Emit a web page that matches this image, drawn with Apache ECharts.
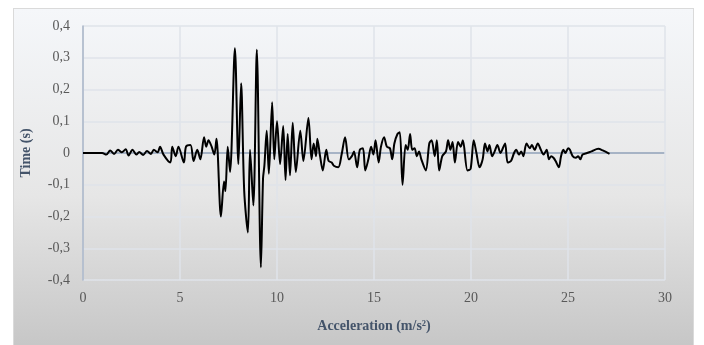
<!DOCTYPE html>
<html>
<head>
<meta charset="utf-8">
<script src="https://cdn.jsdelivr.net/npm/echarts@6/dist/echarts.min.js"></script>
<style>
  html, body { margin: 0; padding: 0; background: #ffffff; }
  #panel {
    position: absolute; left: 13px; top: 8px; width: 679px; height: 340px;
    border: 1px solid #dadada;
    background: linear-gradient(to bottom, #f5f7fa 0%, #e6e6e6 55%, #c6c6c6 100%);
  }
  #chart { position: absolute; left: 0; top: 0; width: 704px; height: 345px; }
</style>
</head>
<body>
<div id="panel"></div>
<div id="chart"></div>
<script>
// time (s) along x, acceleration on y
const times = [
  0, 0.99, 1.2, 1.4, 1.6, 1.8, 2.0, 2.2, 2.35, 2.55, 2.75, 2.9, 3.1, 3.3, 3.5, 3.65, 3.85,
  3.97, 4.15, 4.5, 4.6, 4.78, 4.92, 5.2, 5.31, 5.54, 5.7, 5.89, 6.05, 6.24, 6.35, 6.47, 6.63,
  6.77, 6.88, 7.11, 7.27, 7.34, 7.46, 7.58, 7.83, 8.01, 8.15, 8.31, 8.5, 8.61, 8.78, 8.96,
  9.17, 9.28, 9.35, 9.47, 9.58, 9.75, 9.86, 10.0, 10.16, 10.32, 10.44, 10.55, 10.67, 10.81,
  10.97, 11.2, 11.36, 11.62, 11.78, 11.89, 12.01, 12.08, 12.22, 12.36, 12.54, 12.66, 12.82,
  12.93, 13.16, 13.33, 13.51, 13.7, 13.86, 13.97, 14.13, 14.27, 14.43, 14.55, 14.71, 14.85,
  14.97, 15.08, 15.24, 15.36, 15.52, 15.66, 15.82, 15.94, 16.05, 16.21, 16.33, 16.47, 16.63,
  16.74, 16.86, 16.97, 17.09, 17.21, 17.32, 17.44, 17.67, 17.85, 17.97, 18.13, 18.24, 18.36,
  18.52, 18.71, 18.82, 18.94, 19.05, 19.17, 19.33, 19.47, 19.58, 19.82, 19.98, 20.14, 20.28,
  20.44, 20.6, 20.72, 20.85, 20.95, 21.09, 21.22, 21.36, 21.52, 21.64, 21.76, 21.89, 22.06,
  22.22, 22.33, 22.47, 22.59, 22.7, 22.86, 23.03, 23.14, 23.28, 23.44, 23.6, 23.74, 23.9,
  24.02, 24.13, 24.25, 24.36, 24.53, 24.64, 24.76, 24.87, 25.01, 25.1, 25.24, 25.4, 25.52,
  25.64, 25.75, 25.98, 26.21, 26.56, 26.79, 27.14
];
const accel = [
  0, 0, -0.005, 0.008, -0.003, 0.01, 0.002, 0.012, -0.008, 0.01, -0.005, 0.003, -0.006, 0.006, -0.003, 0.01, 0.002,
  0.02, -0.005, -0.03, 0.02, -0.01, 0.02, -0.03, 0.02, 0.025, -0.025, 0.01, -0.02, 0.05, 0.02, 0.04, 0.02,
  -0.005, 0.045, -0.2, -0.09, -0.12, 0.02, -0.06, 0.33, -0.035, 0.22, -0.12, -0.25, 0.01, -0.165, 0.325,
  -0.36, -0.08, -0.04, 0.07, -0.065, 0.16, -0.02, 0.1, -0.035, 0.085, -0.085, 0.06, -0.07, 0.095,
  -0.06, 0.07, -0.025, 0.11, -0.02, 0.03, -0.01, 0.045, -0.01, -0.055, 0.01, -0.025, -0.03,
  -0.04, -0.045, -0.005, 0.05, -0.02, -0.01, 0.005, -0.045, 0.01, 0.015, -0.055, -0.02, 0.02,
  -0.005, 0.04, -0.03, 0.02, 0.05, 0.02, 0.015, -0.02, 0.03, 0.06, 0.065, -0.1, 0.025,
  0.01, 0.06, 0.01, 0.015, -0.01, 0.005, -0.02, -0.055, 0.03, 0.04, -0.01, 0.04, -0.055,
  -0.01, 0.005, 0.04, 0.01, 0.035, -0.03, 0.035, 0.02, 0.04, -0.055, -0.05, 0.04, 0,
  -0.045, -0.02, 0.03, 0.005, 0.025, -0.01, 0.005, 0.025, 0, 0.015, 0.03, -0.03, -0.025,
  0, 0.01, -0.005, 0.005, -0.01, 0.03, 0.015, 0.025, 0.01, 0.03, 0.01, -0.005, 0.01,
  -0.02, -0.01, -0.015, -0.025, -0.045, -0.01, 0.01, 0, 0.015, 0.01, -0.01, -0.015, -0.01,
  -0.02, -0.005, 0, 0.005, 0.013, 0.008, -0.003
];
const xTicks = [0, 30, 5];
const yTicks = [-0.4, 0.4, 0.1];

const FONT = "'Liberation Serif', 'Times New Roman', serif";
const fmtComma = (v) => {
  const r = Math.round(v * 10) / 10;
  return r === 0 ? "0" : r.toFixed(1).replace(".", ",");
};

// nine horizontal grid lines, the zero line gets the axis colour
const hLineColors = ["#dfe3ea", "#dfe3ea", "#dfe3ea", "#dfe3ea", "#8fa0b8", "#dfe3ea", "#dfe3ea", "#dfe3ea", "#dfe3ea"];

const chart = echarts.init(document.getElementById("chart"));
chart.setOption({
  animation: false,
  backgroundColor: "transparent",
  grid: { left: 83, right: 39, top: 26, bottom: 65 },
  xAxis: {
    type: "value",
    min: xTicks[0], max: xTicks[1], interval: xTicks[2],
    name: "Acceleration (m/s²)",
    nameLocation: "middle",
    nameGap: 39,
    nameTextStyle: { fontFamily: FONT, fontSize: 14, fontWeight: "bold", color: "#44546a" },
    axisLine: { show: false },
    axisTick: { show: false },
    axisLabel: { fontFamily: FONT, fontSize: 14, color: "#595959", margin: 11 },
    splitLine: { show: true, lineStyle: { color: "#dfe3ea", width: 1.5 } }
  },
  yAxis: {
    type: "value",
    min: yTicks[0], max: yTicks[1], interval: yTicks[2],
    name: "Time (s)",
    nameLocation: "middle",
    nameGap: 50,
    nameTextStyle: { fontFamily: FONT, fontSize: 14, fontWeight: "bold", color: "#44546a" },
    axisLine: { show: true, onZero: false, lineStyle: { color: "#a9b5c7", width: 1.5 } },
    axisTick: { show: false },
    axisLabel: { fontFamily: FONT, fontSize: 14, color: "#595959", margin: 13, formatter: fmtComma },
    splitLine: { show: true, lineStyle: { color: hLineColors, width: 1.5 } }
  },
  series: [{
    type: "line",
    data: times.map((t, i) => [t, accel[i]]),
    showSymbol: false,
    smooth: 0.3,
    lineStyle: { color: "#000000", width: 2 }
  }]
});
</script>
</body>
</html>
